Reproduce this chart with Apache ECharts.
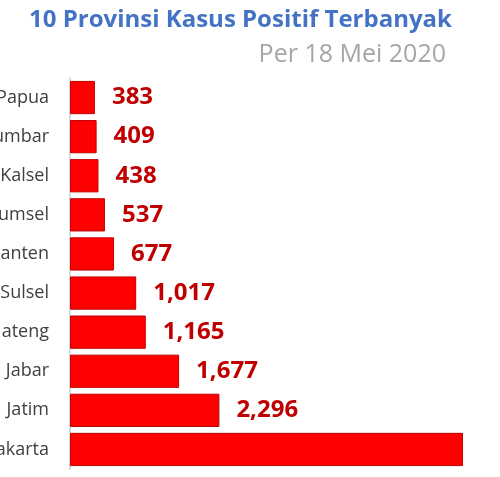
<!DOCTYPE html>
<html>
<head>
<meta charset="utf-8">
<script src="https://cdn.jsdelivr.net/npm/echarts@6/dist/echarts.min.js"></script>
<style>html,body{margin:0;padding:0;background:#fff}#c{width:500px;height:477px}</style>
</head>
<body>
<div id="c"></div>
<script>
var categories = ['Papua','Sumbar','Kalsel','Sumsel','Banten','Sulsel','Jateng','Jabar','Jatim','DKI Jakarta'];
var values = [383,409,438,537,677,1017,1165,1677,2296,6040];
var hiddenLabel = ['DKI Jakarta'];
var titleText = '10 Provinsi Kasus Positif Terbanyak';
var subtitleText = 'Per 18 Mei 2020';

var chart = echarts.init(document.getElementById('c'), null, {renderer:'canvas'});
var fmt = function(v){ return v.toString().replace(/\B(?=(\d{3})+(?!\d))/g, ','); };
chart.setOption({
  animation:false,
  backgroundColor:'#ffffff',
  title:[
    {text:titleText, left:24, top:3, textStyle:{fontFamily:'Open Sans', fontWeight:'bold', fontSize:24, color:'#4472C4'}},
    {text:subtitleText, right:49, top:37, textStyle:{fontFamily:'Open Sans', fontWeight:'normal', fontSize:25, color:'#A6A6A6'}}
  ],
  grid:{left:70, right:37, top:78, bottom:8, containLabel:false, outerBoundsMode:'none'},
  xAxis:{type:'value', min:0, max:'dataMax', show:false},
  yAxis:{type:'category', data:categories, inverse:true,
    axisLine:{show:true, lineStyle:{color:'#D9D9D9', width:2}},
    axisTick:{show:false},
    axisLabel:{margin:21, fontFamily:'Open Sans', fontSize:18, color:'#404040'}
  },
  series:[{
    type:'bar', barCategoryGap:'15%',
    data: values.map(function(v,i){
      var d = {value:v};
      if (hiddenLabel.indexOf(categories[i])>=0) d.label = {show:false};
      return d;
    }),
    itemStyle:{color:'#FF0000', borderColor:'#C00000', borderWidth:1},
    label:{show:true, position:'right', distance:17, fontFamily:'Open Sans', fontWeight:'bold', fontSize:24, color:'#C00000',
      formatter:function(p){return fmt(p.value);}}
  }]
});
</script>
</body>
</html>
